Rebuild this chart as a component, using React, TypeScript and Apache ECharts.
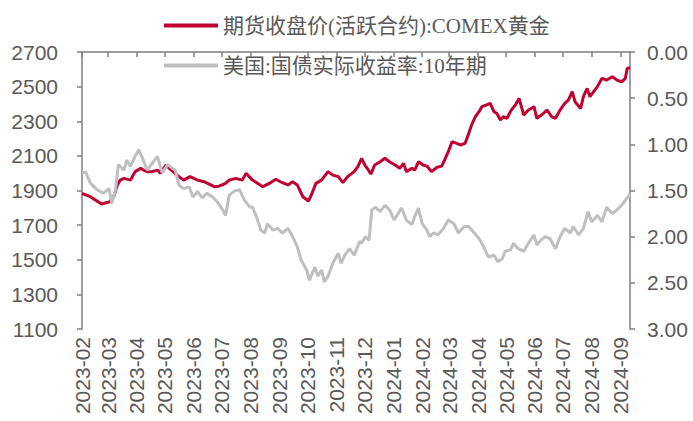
import React, { useEffect, useRef } from "react";
import * as echarts from "echarts";

const seriesNames = ["期货收盘价(活跃合约):COMEX黄金", "美国:国债实际收益率:10年期"];
const startDate = "2023-02-01";
const endDate = "2024-09-11";

const goldDates = [
  "2023-02-01","2023-02-10","2023-02-22","2023-03-03","2023-03-07","2023-03-11","2023-03-14","2023-03-18","2023-03-25","2023-03-30",
  "2023-04-05","2023-04-08","2023-04-12","2023-04-17","2023-04-23","2023-04-26","2023-05-02","2023-05-07","2023-05-14","2023-05-21",
  "2023-05-28","2023-06-05","2023-06-12","2023-06-23","2023-06-28","2023-07-05","2023-07-09","2023-07-16","2023-07-23","2023-07-27",
  "2023-08-03","2023-08-14","2023-08-21","2023-08-28","2023-09-04","2023-09-10","2023-09-15","2023-09-20","2023-09-26","2023-10-02",
  "2023-10-05","2023-10-10","2023-10-16","2023-10-23","2023-10-28","2023-11-03","2023-11-08","2023-11-13","2023-11-20","2023-11-24",
  "2023-11-28","2023-12-02","2023-12-05","2023-12-08","2023-12-12","2023-12-18","2023-12-23","2023-12-28","2024-01-03","2024-01-08",
  "2024-01-12","2024-01-15","2024-01-21","2024-01-24","2024-01-28","2024-02-02","2024-02-06","2024-02-11","2024-02-17","2024-02-22",
  "2024-02-25","2024-02-29","2024-03-04","2024-03-09","2024-03-13","2024-03-18","2024-03-22","2024-03-25","2024-03-29","2024-04-02",
  "2024-04-05","2024-04-10","2024-04-14","2024-04-18","2024-04-21","2024-04-25","2024-04-28","2024-05-02","2024-05-06","2024-05-11",
  "2024-05-15","2024-05-20","2024-05-25","2024-05-31","2024-06-03","2024-06-08","2024-06-14","2024-06-19","2024-06-23","2024-06-28",
  "2024-07-03","2024-07-07","2024-07-11","2024-07-14","2024-07-20","2024-07-23","2024-07-27","2024-07-30","2024-08-03","2024-08-07",
  "2024-08-12","2024-08-17","2024-08-23","2024-08-28","2024-09-02","2024-09-06","2024-09-08","2024-09-11"
];
const goldValues = [
  1884,1864,1822,1835,1864,1932,1960,1970,1960,2009,
  2028,2018,2009,2009,2018,1999,2047,2022,1989,1960,
  1980,1960,1951,1922,1925,1941,1960,1970,1960,1999,
  1960,1922,1941,1965,1945,1932,1951,1932,1864,1839,
  1874,1941,1960,2009,1989,1980,1945,1980,2009,2038,
  2086,2042,2020,1995,2047,2066,2086,2066,2047,2028,
  2057,2009,2028,2018,2066,2047,2041,2009,2034,2041,
  2076,2124,2182,2172,2163,2172,2230,2278,2326,2355,
  2384,2394,2403,2355,2346,2307,2326,2317,2360,2394,
  2432,2336,2365,2384,2317,2336,2365,2326,2317,2365,
  2403,2423,2471,2413,2374,2442,2490,2442,2471,2500,
  2548,2538,2557,2538,2528,2548,2605,2609
];

const yieldDates = [
  "2023-02-01","2023-02-05","2023-02-10","2023-02-17","2023-02-24","2023-03-02","2023-03-05","2023-03-09","2023-03-12","2023-03-18",
  "2023-03-21","2023-03-25","2023-03-30","2023-04-03","2023-04-06","2023-04-12","2023-04-17","2023-04-23","2023-04-28","2023-05-04",
  "2023-05-09","2023-05-12","2023-05-16","2023-05-21","2023-05-27","2023-05-31","2023-06-05","2023-06-10","2023-06-15","2023-06-21",
  "2023-06-26","2023-07-02","2023-07-05","2023-07-09","2023-07-14","2023-07-20","2023-07-25","2023-07-31","2023-08-03","2023-08-07",
  "2023-08-12","2023-08-16","2023-08-19","2023-08-25","2023-08-30","2023-09-04","2023-09-10","2023-09-15","2023-09-20","2023-09-24",
  "2023-09-30","2023-10-03","2023-10-09","2023-10-12","2023-10-16","2023-10-19","2023-10-23","2023-10-28","2023-11-03","2023-11-06",
  "2023-11-10","2023-11-15","2023-11-20","2023-11-26","2023-11-28","2023-12-02","2023-12-06","2023-12-09","2023-12-13","2023-12-18",
  "2023-12-23","2023-12-28","2024-01-02","2024-01-05","2024-01-10","2024-01-15","2024-01-21","2024-01-24","2024-01-28","2024-02-01",
  "2024-02-06","2024-02-09","2024-02-13","2024-02-18","2024-02-24","2024-02-29","2024-03-06","2024-03-11","2024-03-17","2024-03-22",
  "2024-03-27","2024-04-02","2024-04-07","2024-04-12","2024-04-18","2024-04-22","2024-04-27","2024-04-30","2024-05-06","2024-05-09",
  "2024-05-14","2024-05-20","2024-05-25","2024-05-31","2024-06-03","2024-06-07","2024-06-12","2024-06-17","2024-06-23","2024-06-28",
  "2024-07-03","2024-07-09","2024-07-12","2024-07-18","2024-07-23","2024-07-28","2024-08-01","2024-08-07","2024-08-12","2024-08-17",
  "2024-08-23","2024-08-28","2024-09-02","2024-09-08","2024-09-11"
];
const yieldValues = [
  1.31,1.30,1.42,1.49,1.53,1.48,1.64,1.49,1.22,1.28,
  1.17,1.24,1.13,1.06,1.13,1.28,1.21,1.13,1.31,1.22,
  1.26,1.28,1.44,1.48,1.46,1.57,1.51,1.58,1.53,1.57,
  1.62,1.71,1.77,1.55,1.51,1.49,1.60,1.68,1.68,1.78,
  1.93,1.96,1.86,1.93,1.91,1.96,1.91,2.00,2.11,2.25,
  2.36,2.47,2.33,2.43,2.36,2.49,2.43,2.29,2.18,2.29,
  2.20,2.13,2.20,2.05,2.07,2.00,2.04,1.71,1.68,1.73,
  1.66,1.71,1.82,1.77,1.69,1.82,1.87,1.78,1.69,1.86,
  1.93,2.00,1.96,1.98,1.91,1.82,1.86,1.96,1.89,1.89,
  1.95,2.02,2.11,2.22,2.20,2.27,2.24,2.16,2.14,2.07,
  2.13,2.16,2.07,1.98,2.09,2.04,2.00,2.02,2.13,2.00,
  1.91,1.96,1.89,1.98,1.91,1.73,1.84,1.77,1.84,1.68,
  1.75,1.71,1.66,1.58,1.54
];

const leftAxisRange = [1100, 2700];
const leftAxisStep = 200;
const rightAxisRange = [0, 3];
const rightAxisStep = 0.5;

function buildDays(start: string, end: string): string[] {
  const out: string[] = [];
  const d = new Date(start + "T00:00:00Z");
  const e = new Date(end + "T00:00:00Z");
  while (d.getTime() <= e.getTime()) {
    out.push(d.toISOString().slice(0, 10));
    d.setUTCDate(d.getUTCDate() + 1);
  }
  return out;
}

const RED = "#C00030";
const GRAY = "#BFBFBF";
const AXIS = "#7F7F7F";
const TEXT = "#595959";
const SANS = '"Liberation Sans", Arial, sans-serif';
const SERIF = '"Liberation Serif", "Noto Sans CJK SC", serif';
const FS = 21;

export default function App() {
  const ref = useRef<HTMLDivElement>(null);
  useEffect(() => {
    if (!ref.current) return;
    const chart = echarts.init(ref.current, undefined, { renderer: "svg" });
    const days = buildDays(startDate, endDate);
    const isMonthStart = (_i: number, v: string) => v.slice(8, 10) === "01";
    chart.setOption({
      animation: false,
      backgroundColor: "#ffffff",
      legend: {
        orient: "vertical",
        left: 159,
        top: 10,
        itemWidth: 54,
        itemHeight: 4,
        itemGap: 19,
        icon: "rect",
        textStyle: { fontFamily: SERIF, fontSize: FS, color: TEXT, lineHeight: 21 },
        data: seriesNames,
      },
      grid: { left: 82, right: 63, top: 52, bottom: 92 },
      xAxis: {
        type: "category",
        data: days,
        boundaryGap: false,
        axisLine: { lineStyle: { color: AXIS, width: 1.5 } },
        axisTick: { show: true, interval: isMonthStart, length: 5, lineStyle: { color: AXIS, width: 1.5 } },
        axisLabel: {
          interval: isMonthStart,
          rotate: 90,
          margin: 8,
          fontFamily: SANS,
          fontSize: FS,
          color: TEXT,
          formatter: (v: string) => v.slice(0, 7),
        },
        splitLine: { show: false },
      },
      yAxis: [
        {
          type: "value",
          min: leftAxisRange[0],
          max: leftAxisRange[1],
          interval: leftAxisStep,
          axisLine: { show: true, lineStyle: { color: AXIS, width: 1.5 } },
          axisTick: { show: true, length: 5, lineStyle: { color: AXIS, width: 1.5 } },
          axisLabel: {
            margin: 24,
            fontFamily: SANS,
            fontSize: FS,
            color: TEXT,
            formatter: (v: number) => String(v),
          },
          splitLine: { show: false },
        },
        {
          type: "value",
          min: rightAxisRange[0],
          max: rightAxisRange[1],
          interval: rightAxisStep,
          inverse: true,
          position: "right",
          axisLine: { show: true, lineStyle: { color: AXIS, width: 1.5 } },
          axisTick: { show: true, length: 5, lineStyle: { color: AXIS, width: 1.5 } },
          axisLabel: {
            margin: 17,
            fontFamily: SANS,
            fontSize: FS,
            color: TEXT,
            formatter: (v: number) => v.toFixed(2),
          },
          splitLine: { show: false },
        },
      ],
      series: [
        {
          name: seriesNames[0],
          type: "line",
          yAxisIndex: 0,
          showSymbol: false,
          symbol: "none",
          lineStyle: { color: RED, width: 3 },
          itemStyle: { color: RED },
          data: goldDates.map((d, i) => [d, goldValues[i]]),
        },
        {
          name: seriesNames[1],
          type: "line",
          yAxisIndex: 1,
          showSymbol: false,
          symbol: "none",
          lineStyle: { color: GRAY, width: 3 },
          itemStyle: { color: GRAY },
          data: yieldDates.map((d, i) => [d, yieldValues[i]]),
        },
      ],
    });
    return () => chart.dispose();
  }, []);
  return (
    <div
      ref={ref}
      style={{ position: "fixed", left: 0, top: 0, width: 693, height: 421, background: "#fff" }}
    />
  );
}
